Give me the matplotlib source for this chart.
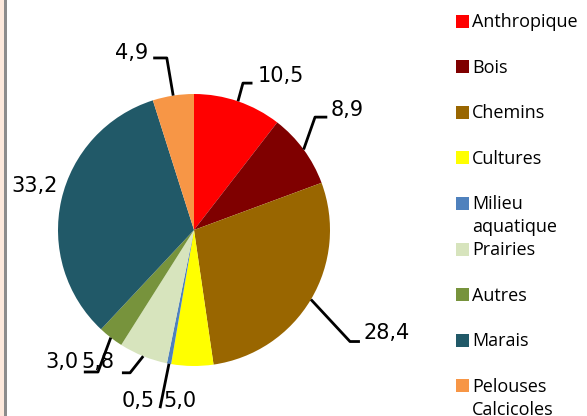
import matplotlib
matplotlib.use("Agg")
import matplotlib.pyplot as plt
from matplotlib.patches import Rectangle
import numpy as np

categories = ["Anthropique", "Bois", "Chemins", "Cultures", "Milieu\naquatique",
              "Prairies", "Autres", "Marais", "Pelouses\nCalcicoles"]
values = [10.5, 8.9, 28.4, 5.0, 0.5, 5.8, 3.0, 33.2, 4.9]
value_labels = ["10,5", "8,9", "28,4", "5,0", "0,5", "5,8", "3,0", "33,2", "4,9"]
colors = ["#FF0000", "#7F0000", "#996600", "#FFFF00", "#4F81BD",
          "#D7E4BD", "#77933C", "#215968", "#F79646"]

# label placement (data coords, pie radius = 1): text centre, elbow point, leader end
label_pos = [(0.64, 1.13), (1.125, 0.88), (1.42, -0.76), (-0.10, -1.26), (-0.41, -1.26),
             (-0.71, -0.97), (-0.97, -0.97), (-1.17, 0.32), (-0.46, 1.30)]
elbows = [(0.36, 1.08), (0.89, 0.83), (1.147, -0.82), None, None,
          (-0.47, -1.05), (-0.706, -1.044), None, (-0.20, 1.265)]
ends = [(0.43, 1.08), (0.98, 0.83), (1.22, -0.82), None, (-0.25, -1.31),
        (-0.53, -1.05), (-0.81, -1.044), None, (-0.30, 1.265)]

W, H = 587, 416
fig = plt.figure(figsize=(W / 100, H / 100), dpi=100)
fig.patch.set_facecolor("white")

# left border strip
fig.add_artist(Rectangle((0, 0), 4 / W, 1, transform=fig.transFigure,
                         facecolor="#FDE9DC", edgecolor="none"))
fig.add_artist(Rectangle((4 / W, 0), 2.5 / W, 1, transform=fig.transFigure,
                         facecolor="#8C8C8C", edgecolor="none"))

cx, cy, r = 194, 230, 136
ax = fig.add_axes([(cx - r) / W, (H - cy - r) / H, 2 * r / W, 2 * r / H])
wedges, _ = ax.pie(values, colors=colors, startangle=90, counterclock=False,
                   radius=1, wedgeprops=dict(linewidth=0))
ax.set_xlim(-1, 1)
ax.set_ylim(-1, 1)
ax.set_aspect("equal")
ax.axis("off")

total = sum(values)
cum = 0.0
for i, v in enumerate(values):
    mid = np.deg2rad(90 - (cum + v / 2) / total * 360)
    cum += v
    px, py = np.cos(mid), np.sin(mid)
    if ends[i] is not None:
        pts = [(px, py)]
        if elbows[i] is not None:
            pts.append(elbows[i])
        pts.append(ends[i])
        xs, ys = zip(*pts)
        ax.plot(xs, ys, color="black", lw=2, clip_on=False, solid_capstyle="butt")
    ax.text(label_pos[i][0], label_pos[i][1], value_labels[i], ha="center", va="center",
            fontsize=15, family="DejaVu Sans", color="black", clip_on=False)

# manual legend
step = 45.6
for i, (cat, col) in enumerate(zip(categories, colors)):
    yc = 21 + i * step
    fig.add_artist(Rectangle((456 / W, (H - yc - 6.5) / H), 12.5 / W, 13 / H,
                             transform=fig.transFigure, facecolor=col, edgecolor="none"))
    lines = cat.split("\n")
    for j, line in enumerate(lines):
        fig.text(472 / W, (H - yc - 1 - j * 23) / H, line, ha="left", va="center",
                 fontsize=13, family="Open Sans", color="black")

fig.savefig("out.png", dpi=100)
